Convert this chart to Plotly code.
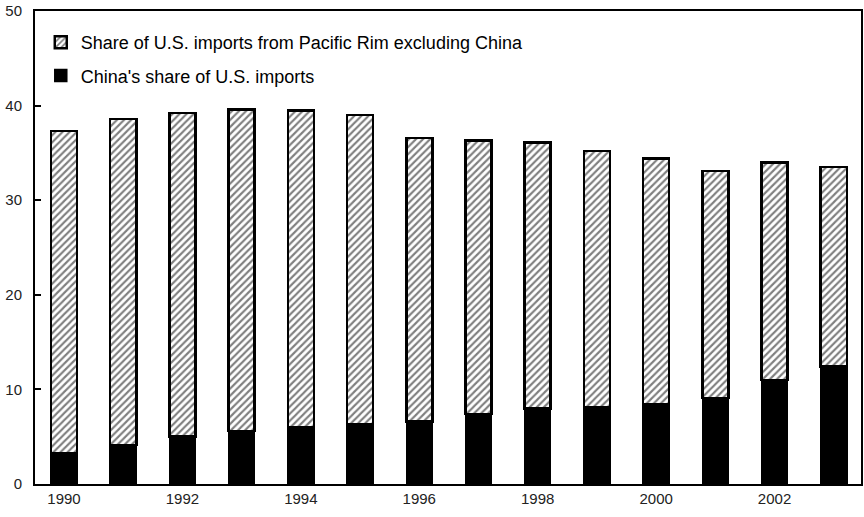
import plotly.graph_objects as go

years = list(range(1990, 2004))
china_share = [3.3, 4.1, 5.0, 5.6, 6.0, 6.3, 6.6, 7.4, 8.0, 8.1, 8.4, 9.1, 11.0, 12.4]
pacific_ex_china = [34.0, 34.5, 34.2, 34.0, 33.5, 32.7, 30.0, 28.9, 28.1, 27.1, 26.0, 24.0, 23.0, 21.1]
tick_years = [1990, 1992, 1994, 1996, 1998, 2000, 2002]

fig = go.Figure()

# black bottom segment
fig.add_trace(go.Bar(
    x=years, y=china_share,
    name="China's share of U.S. imports",
    legendgroup="china", legendrank=2,
    marker=dict(color="black", line=dict(color="black", width=1.5)),
    width=0.44,
))

# hatched top segment
fig.add_trace(go.Bar(
    x=years, y=pacific_ex_china,
    name="Share of U.S. imports from Pacific Rim excluding China",
    legendgroup="pacific", legendrank=1,
    marker=dict(
        color="white",
        line=dict(color="black", width=2.5),
        pattern=dict(shape="/", fgcolor="black", bgcolor="white", size=5, solidity=0.42),
    ),
    width=0.44,
))

fig.update_layout(
    barmode="stack",
    width=864, height=517,
    margin=dict(l=35, r=3, t=11, b=33),
    plot_bgcolor="white",
    paper_bgcolor="white",
    font=dict(family="Liberation Sans, Arial, sans-serif", size=15, color="#222"),
    showlegend=True,
    legend=dict(
        x=0.007, y=0.9725, xanchor="left", yanchor="top",
        traceorder="grouped",
        font=dict(size=18, color="black"),
        bgcolor="rgba(0,0,0,0)",
        itemwidth=30,
        tracegroupgap=7,
    ),
)

fig.update_xaxes(
    range=[1989.51, 2003.46],
    tickmode="array", tickvals=tick_years, ticktext=[str(y) for y in tick_years],
    showline=True, linecolor="black", linewidth=2, mirror=True,
    showgrid=False, ticks="", zeroline=False, automargin=False,
)
fig.update_yaxes(
    range=[0, 50], dtick=10,
    showline=True, linecolor="black", linewidth=2, mirror=True,
    showgrid=False, ticks="inside", ticklen=6, tickwidth=2, tickcolor="black",
    ticklabelstandoff=8,
    zeroline=False, automargin=False,
)

# drop the default page margin so the figure sits at the window's corner
fig.write_html(
    "out.html",
    config={"displayModeBar": False},
    post_script="document.body.style.margin='0';",
)
